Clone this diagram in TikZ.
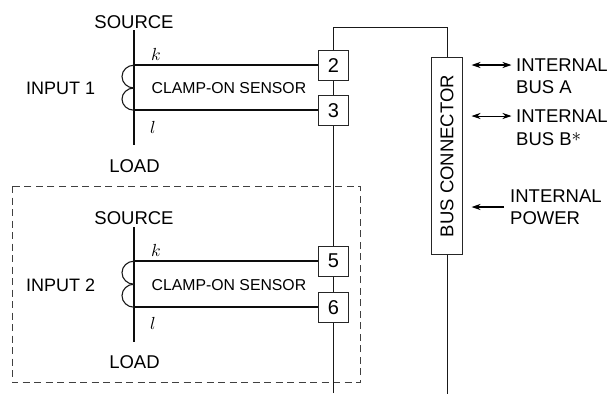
\documentclass[tikz,border=0pt]{standalone}
\usepackage{fontspec}
\setmainfont{Liberation Sans}
\usetikzlibrary{arrows.meta}
\tikzset{
  lbl/.style={inner sep=0pt,font=\fontsize{18.5}{20}\selectfont},
  lblin/.style={inner sep=0pt,font=\fontsize{18}{20}\selectfont},
  lblsm/.style={inner sep=0pt,font=\fontsize{15.8}{18}\selectfont},
  lname/.style={inner sep=0pt,scale=1.75},
  term/.style={draw=black!85,fill=white,line width=0.9pt,minimum width=30pt,minimum height=30pt,inner sep=0pt,font=\fontsize{20}{24}\selectfont},
  wire/.style={line width=0.9pt,black!90},
  heavy/.style={line width=1.5pt,black!95},
  coil/.style={line width=1.1pt,black!90},
  dbl/.style={line width=1.2pt,{Stealth[length=9pt,width=6pt]}-{Stealth[length=9pt,width=6pt]}},
  dblthin/.style={line width=0.9pt,{Stealth[length=9pt,width=6pt]}-{Stealth[length=9pt,width=6pt]}},
  sgl/.style={line width=1.3pt,-{Stealth[length=9pt,width=6pt]}}
}
\begin{document}
\begin{tikzpicture}[x=1pt,y=-1pt]
\useasboundingbox (0,0) rectangle (611,394);
% dashed frame
\draw[dash pattern=on 7pt off 4.5pt,line width=0.8pt,black!75] (12,186) rectangle (360,382.5);
% coordinates
\coordinate (topL) at (333.5,27);
\coordinate (topR) at (447,27);
\coordinate (botL) at (333.5,393);
\coordinate (botR) at (447,394);
\draw[wire] (botL) -- (topL) -- (topR) -- (botR);
% bus connector
\node[draw=black!85,fill=white,line width=0.9pt,minimum width=30.5pt,minimum height=197pt,inner sep=0pt] (bus) at (446.75,155.5) {};
\node[lbl,rotate=90] (buslabel) at (447,156) {BUS CONNECTOR};
% terminals
\node[term] (t2) at (333.5,65.2) {2};
\node[term] (t3) at (333.5,110.2) {3};
\node[term] (t5) at (333.5,261.2) {5};
\node[term] (t6) at (333.5,307.2) {6};
% sensor 1
\coordinate (s1t) at (134,30);
\coordinate (s1b) at (134,145);
\coordinate (s1k) at (134,65.2);
\coordinate (s1m) at (134,88);
\coordinate (s1l) at (134,110.2);
\draw[heavy] (s1t) -- (s1b);
\draw[heavy] (s1k) -- (t2.west);
\draw[heavy] (s1l) -- (t3.west);
\draw[coil] (s1k) arc[start angle=90,end angle=270,x radius=12,y radius=-11.4];
\draw[coil] (s1m) arc[start angle=90,end angle=270,x radius=12,y radius=-11.1];
% sensor 2
\coordinate (s2t) at (134,227);
\coordinate (s2b) at (134,342);
\coordinate (s2k) at (134,261.2);
\coordinate (s2m) at (134,284.2);
\coordinate (s2l) at (134,307.2);
\draw[heavy] (s2t) -- (s2b);
\draw[heavy] (s2k) -- (t5.west);
\draw[heavy] (s2l) -- (t6.west);
\draw[coil] (s2k) arc[start angle=90,end angle=270,x radius=12,y radius=-11.5];
\draw[coil] (s2m) arc[start angle=90,end angle=270,x radius=12,y radius=-11.5];
% labels
\node[lbl] (src1) at (134,22) {SOURCE};
\node[lbl] (load1) at (134.5,166) {LOAD};
\node[lblin,anchor=west] (in1) at (26,88.5) {INPUT 1};
\node[lblsm,anchor=west] (cs1) at (151.5,88.5) {CLAMP-ON SENSOR};
\node[lname] (k1) at (156,54.5) {$k$};
\node[lname] (l1) at (153,127) {$l$};
\node[lbl] (src2) at (134,218.5) {SOURCE};
\node[lbl] (load2) at (134.5,362.5) {LOAD};
\node[lblin,anchor=west] (in2) at (26,285) {INPUT 2};
\node[lblsm,anchor=west] (cs2) at (151.5,285) {CLAMP-ON SENSOR};
\node[lname] (k2) at (156,250.5) {$k$};
\node[lname] (l2) at (153,323.5) {$l$};
% right side
\node[lbl,anchor=west] (a1) at (516,65) {INTERNAL};
\node[lbl,anchor=west] (a2) at (516,87) {BUS A};
\node[lbl,anchor=west] (b1) at (516,116) {INTERNAL};
\node[lbl,anchor=west] (b2) at (516,139) {BUS B\raisebox{4pt}{\scalebox{1.1}{$*$}}};
\node[lbl,anchor=west] (p1) at (510,196) {INTERNAL};
\node[lbl,anchor=west] (p2) at (510,218) {POWER};
\coordinate (ahl) at (471.5,65);
\coordinate (ahr) at (511.5,65);
\coordinate (bhl) at (471.5,116);
\coordinate (bhr) at (511.5,116);
\coordinate (phl) at (471.5,207);
\coordinate (pst) at (504,207);
\draw[dbl] (ahl) -- (ahr);
\draw[dblthin] (bhl) -- (bhr);
\draw[sgl] (pst) -- (phl);
\end{tikzpicture}
\end{document}
